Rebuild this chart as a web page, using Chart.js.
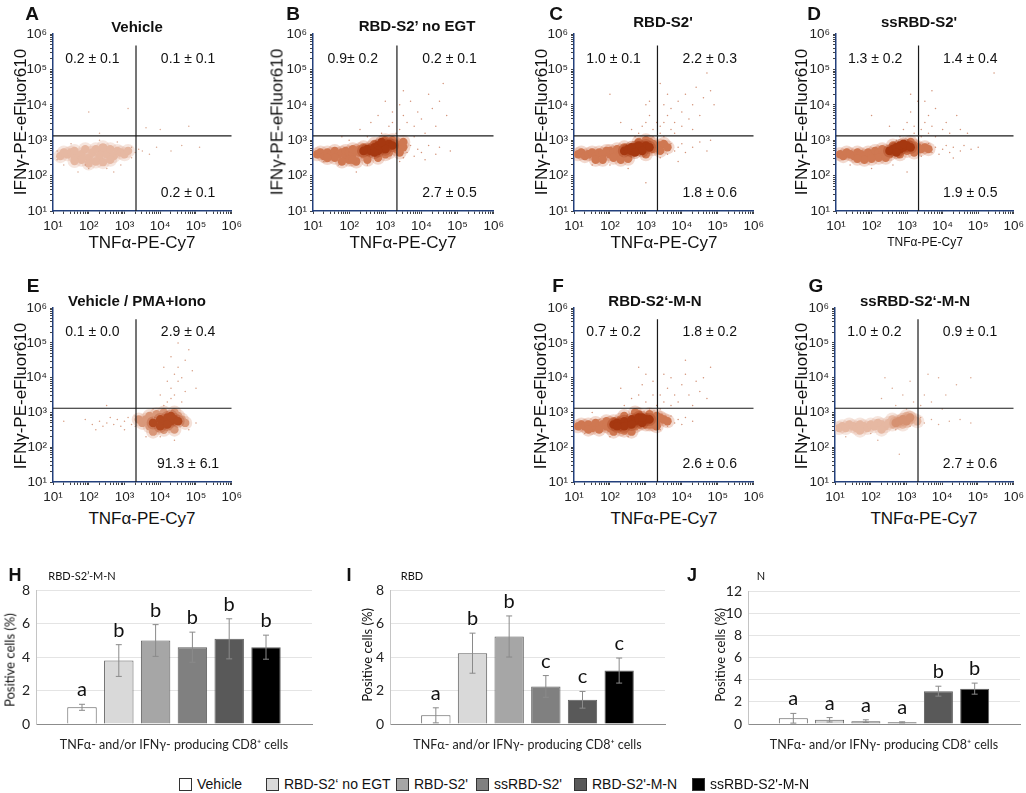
<!DOCTYPE html>
<html>
<head>
<meta charset="utf-8">
<script src="https://cdn.jsdelivr.net/npm/chart.js@4"></script>
<style>
  body { margin: 0; background: #fff; }
  #fig { position: relative; width: 1026px; height: 793px; overflow: hidden; font-family: 'Liberation Sans', Arial, sans-serif; color: #111; }
  #fig canvas { position: absolute; }
  .t { position: absolute; transform: translate(-50%, -50%); white-space: nowrap; line-height: 1; }
  .rot { transform: translate(-50%, -50%) rotate(-90deg); }
  .box { position: absolute; width: 11px; height: 11px; border: 1px solid #333; }
  .leg { position: absolute; font-size: 14px; line-height: 1; white-space: nowrap; transform: translateY(-50%); }
</style>
</head>
<body>
<div id="fig"></div>
<script>
// ---- flow panels (A-G) ----
const panelIds = ['A', 'B', 'C', 'D', 'E', 'F', 'G'];
const panelTitles = ['Vehicle', 'RBD-S2’ no EGT', "RBD-S2'", "ssRBD-S2'", 'Vehicle / PMA+Iono', 'RBD-S2‘-M-N', 'ssRBD-S2‘-M-N'];
const upperLeft = ['0.2 ± 0.1', '0.9± 0.2', '1.0 ± 0.1', '1.3 ± 0.2', '0.1 ± 0.0', '0.7 ± 0.2', '1.0 ± 0.2'];
const upperRight = ['0.1 ± 0.1', '0.2 ± 0.1', '2.2 ± 0.3', '1.4 ± 0.4', '2.9 ± 0.4', '1.8 ± 0.2', '0.9 ± 0.1'];
const lowerRight = ['0.2 ± 0.1', '2.7 ± 0.5', '1.8 ± 0.6', '1.9 ± 0.5', '91.3 ± 6.1', '2.6 ± 0.6', '2.7 ± 0.6'];

// quadrant gates (TNFa cut, IFNg cut, top end of the vertical gate)
const gateX = 2100;
const gateY = 1320;
const gateTop = 480000;

// events [TNFa, IFNg]
const vehicleBody = [[16,355],[25,400],[32,450],[40,355],[40,500],[63,400],[80,560],[100,320],[126,450],[158,560],[200,355],[250,500],[320,400],[400,560],[500,355],[630,500],[790,450],[1000,400],[158,250],[63,280],[400,280],[1260,500],[20,450],[250,630],[100,220],[250,240],[40,260]];
const vehicleDots = [[20,200],[32,790],[100,158],[200,1000],[320,158],[630,890],[1580,320],[2000,450],[3160,500],[5000,400],[7900,630],[20000,500],[40000,710],[126000,630],[100,6300],[1260,7900],[200,1580],[50,126],[790,200],[10000,2000],[4000,2240],[63000,2500],[13,500],[500,126],[1580,630],[2500,560],[13,280],[80,200]];

const noEgtCore = [[320,560],[400,500],[500,630],[630,710],[790,630],[1000,710],[1260,790],[1000,560],[630,500],[1580,710],[790,890],[500,450],[250,500]];
const noEgtBody = [[13,400],[16,450],[20,355],[25,450],[32,400],[40,500],[50,400],[63,450],[80,355],[80,500],[100,450],[126,400],[126,560],[158,500],[200,450],[200,560],[250,400],[250,630],[320,450],[400,630],[500,790],[2000,790],[2000,560],[2500,710],[3160,630],[1580,1000],[1000,1000],[630,320],[1260,450],[3160,890],[40,320],[100,280],[63,250],[158,250],[320,280],[1000,400],[25,316],[126,280],[2500,450]];
const noEgtDots = [[200,2000],[400,3160],[630,5000],[1000,12600],[790,1580],[1260,2500],[1580,6300],[320,1260],[1580,3160],[2000,1580],
  [2500,2000],[3160,5000],[4000,3160],[5000,12600],[6300,2500],[7900,6300],[10000,4000],[15800,20000],[20000,7900],[31600,12600],[40000,40000],[50000,5000],[3160,25000],[12600,1580],[2500,10000],[6300,1260],[25000,2500],
  [4000,450],[5000,710],[6300,355],[7900,560],[10000,450],[15800,710],[25000,400],[31600,630],[63000,500],[3160,320],[2500,250],[12600,280],
  [50,200],[158,126],[320,200],[20,250],[63,1260],[100,1000]];

const rbdCore = [[250,500],[320,560],[400,500],[500,630],[630,560],[790,630],[1000,710],[630,710],[400,630],[1260,630],[790,500],[500,450]];
const rbdBody = [[13,400],[16,450],[20,355],[25,400],[32,450],[40,355],[50,450],[63,400],[80,500],[100,400],[100,500],[126,450],[158,400],[158,560],[200,450],[200,500],[250,630],[320,400],[1000,500],[1580,790],[2000,630],[1260,890],[2500,710],[3160,790],[630,890],[1000,1000],[40,280],[125,320],[1580,560],[4000,630],[63,280],[200,280],[320,300],[1000,400],[2500,500]];
const rbdDots = [[630,1580],[790,2500],[1000,3160],[1260,5000],[1580,1260],[1580,2000],[2000,3160],[1000,10000],[500,1260],[1260,12600],[400,2000],[200,3160],[100,20000],
  [2500,1580],[2500,2500],[3160,3160],[3160,1260],[4000,5000],[5000,2000],[5000,7900],[6300,3160],[7900,12600],[10000,2500],[10000,6300],[12600,20000],[15800,4000],[20000,10000],[25000,31600],[31600,5000],[40000,15800],[50000,79000],[63000,25000],[79000,10000],[2500,40000],[4000,20000],[6300,1580],[20000,2000],[3160,10000],
  [4000,400],[5000,790],[6300,500],[7900,630],[10000,790],[12600,450],[20000,630],[31600,890],[50000,500],[2500,320],[7900,250],[63000,1000],
  [32,200],[100,200],[320,158],[1000,63]];

const ssRbdCore = [[320,500],[400,560],[500,630],[630,560],[790,630],[1000,710],[630,710],[790,790],[1260,630],[500,450]];
const ssRbdBody = [[13,400],[16,355],[20,450],[25,400],[32,355],[40,450],[50,400],[63,355],[80,450],[100,400],[126,500],[158,450],[200,400],[200,560],[250,500],[320,400],[1000,500],[1580,710],[2000,630],[1260,890],[2500,560],[3160,630],[4000,560],[400,710],[63,280],[158,320],[40,300],[100,300],[250,320],[630,400],[1580,450]];
const ssRbdDots = [[630,1260],[790,2000],[1000,3160],[1260,6300],[1580,1580],[1580,2500],[2000,12600],[500,1000],[1260,20000],[320,2500],[100,5000],
  [2500,1260],[2500,2000],[3160,3160],[4000,1580],[4000,5000],[5000,2500],[6300,1260],[6300,7900],[10000,2000],[12600,3160],[15800,1580],[25000,5000],[31600,2000],[3160,12600],[5000,25000],[280000,79000],[50000,1580],
  [5000,450],[6300,630],[7900,400],[10000,560],[12600,710],[15800,450],[20000,630],[31600,500],[40000,710],[63000,560],[100000,630],[2500,355],[20000,316],[4000,790],
  [25,200],[100,158],[400,200],[1000,126]];

const pmaCore = [[6300,500],[10000,630],[12600,500],[15800,710],[20000,560],[25000,630],[10000,400],[15800,450],[31600,560],[20000,790]];
const pmaBody = [[3160,500],[4000,630],[5000,400],[5000,790],[7900,355],[7900,890],[12600,316],[12600,1000],[20000,400],[25000,1000],[31600,790],[40000,630],[50000,500],[6300,280],[2500,630],[25000,320]];
const pmaDots = [[80,630],[126,450],[200,560],[250,400],[320,500],[500,450],[630,630],[790,400],[1000,560],[1260,710],[1580,450],[2000,400],[158,320],[1000,320],[400,710],[2000,790],[20,560],
  [12600,1580],[15800,2000],[20000,2500],[25000,3160],[20000,5000],[31600,7900],[25000,12600],[40000,10000],[31600,20000],[50000,31600],[63000,63000],[40000,2000],[10000,3160],[15800,7900],[50000,4000],[79000,15800],[12600,20000],[20000,40000],[6300,1260],[100000,5000],[31600,100000],
  [10000,200],[25000,158],[63000,316],[100000,500],[4000,200],[316,1580]];

const rbdMnCore = [[126,450],[158,500],[200,450],[250,560],[320,500],[400,630],[500,560],[630,630],[790,500],[1000,630],[250,400],[400,450],[630,710],[1260,630],[158,400],[790,710]];
const rbdMnBody = [[13,400],[16,450],[20,400],[25,450],[32,355],[40,500],[50,400],[63,450],[80,400],[80,560],[100,500],[100,355],[126,560],[200,630],[320,355],[500,400],[1000,450],[1580,630],[2000,560],[2000,790],[1260,890],[2500,710],[3160,630],[630,890],[400,280],[50,320],[200,320],[1580,450],[4000,560],[25,320],[126,280],[250,300],[630,450],[1260,450],[2000,400],[250,790],[500,1000]];
const rbdMnDots = [[250,1580],[400,2500],[630,3160],[790,6300],[1000,2000],[1260,1260],[1580,3160],[1000,12600],[500,1260],[2000,1580],[200,5000],[630,20000],[1580,7900],
  [2500,1260],[2500,3160],[3160,2000],[4000,5000],[5000,1580],[5000,10000],[6300,3160],[7900,2000],[10000,6300],[12600,12600],[15800,3160],[20000,1580],[25000,7900],[31600,4000],[63000,20000],[50000,2500],[3160,12600],[12600,31600],[40000,10000],
  [4000,400],[5000,790],[6300,500],[7900,630],[10000,450],[12600,710],[20000,560],[2500,320],[3160,500],
  [20,250],[100,200],[320,200],[50,630],[32,1000]];

const ssRbdMnCore = [[500,500],[630,560],[790,630],[1000,560],[1260,710]];
const ssRbdMnBody = [[13,355],[16,400],[20,355],[25,450],[32,400],[40,355],[50,450],[63,400],[80,355],[100,450],[126,400],[158,500],[200,450],[250,400],[320,500],[400,450],[500,560],[630,500],[790,630],[1000,560],[1260,710],[1580,630],[2000,560],[790,450],[200,320],[50,300],[1000,790],[400,630]];
const ssRbdMnDots = [[100,250],[500,320],[1260,400],[2500,710],[3160,500],[5000,630],[7900,450],[15800,560],[31600,630],[63000,500],[500,1580],[790,3160],[1000,1260],[1260,7900],[1580,2000],[400,5000],[200,2500],[2500,1580],[3160,3160],[5000,2000],[7900,10000],[12600,3160],[25000,6300],[63000,10000],[4000,12600],[10000,1260],[20,200],[158,158],[630,63],[250,10000]];

// ---- bar panels (H-J) ----
const groups = ['Vehicle', "RBD-S2' no EGT", "RBD-S2'", "ssRBD-S2'", "RBD-S2'-M-N", "ssRBD-S2'-M-N"];
const legendNames = ['Vehicle', 'RBD-S2‘ no EGT', "RBD-S2'", "ssRBD-S2'", "RBD-S2'-M-N", "ssRBD-S2'-M-N"];
const groupColors = ['#ffffff', '#d9d9d9', '#a6a6a6', '#808080', '#595959', '#000000'];
const cellType = ['TNFα- and/or IFNγ- producing CD8⁺ cells'];
const barIds = ['H', 'I', 'J'];
const barTitles = ['RBD-S2’-M-N', 'RBD', 'N'];
const hMeans = [1.0, 3.8, 5.0, 4.6, 5.1, 4.6];
const hErrors = [0.18, 0.95, 0.95, 0.9, 1.2, 0.72];
const hLetters = ['a', 'b', 'b', 'b', 'b', 'b'];
const iMeans = [0.52, 4.24, 5.24, 2.25, 1.45, 3.2];
const iErrors = [0.45, 1.2, 1.23, 0.65, 0.5, 0.75];
const iLetters = ['a', 'b', 'b', 'c', 'c', 'c'];
const jMeans = [0.52, 0.38, 0.26, 0.15, 2.97, 3.2];
const jErrors = [0.44, 0.2, 0.12, 0.05, 0.45, 0.5];
const jLetters = ['a', 'a', 'a', 'a', 'b', 'b'];

Chart.defaults.font.family = "'Liberation Sans', Arial, sans-serif";
const fig = document.getElementById('fig');
const sup = ['⁰', '¹', '²', '³', '⁴', '⁵', '⁶'];

function put(text, x, y, style, rotate) {
  const d = document.createElement('div');
  d.className = rotate ? 't rot' : 't';
  d.textContent = text;
  d.style.left = x + 'px';
  d.style.top = y + 'px';
  Object.assign(d.style, style || {});
  fig.appendChild(d);
}

function makeCanvas(left, top, w, h) {
  const cv = document.createElement('canvas');
  cv.width = w; cv.height = h;
  cv.style.left = left + 'px'; cv.style.top = top + 'px';
  fig.appendChild(cv);
  return cv;
}

function decadeTicks(scale) {
  const t = [];
  for (let e = 1; e < 6; e++) {
    for (let k = 1; k < 10; k++) t.push({ value: k * Math.pow(10, e) });
  }
  t.push({ value: 1e6 });
  scale.ticks = t;
}

function decadeLabel(v) {
  const e = Math.round(Math.log10(v));
  return Math.abs(v - Math.pow(10, e)) < 1e-6 ? '10' + sup[e] : '';
}

// opaque fills so overlapping events merge into one cloud, soft halo around it
const tones = {
  dark: { core: 'rgb(166,56,16)', coreHalo: 'rgba(166,56,16,0.3)', body: 'rgb(207,120,82)', bodyHalo: 'rgba(207,120,82,0.28)', dot: 'rgba(200,120,88,0.8)' },
  mid: { core: 'rgb(178,74,32)', coreHalo: 'rgba(178,74,32,0.3)', body: 'rgb(217,152,122)', bodyHalo: 'rgba(217,152,122,0.3)', dot: 'rgba(205,132,100,0.8)' },
  light: { core: 'rgb(214,146,114)', coreHalo: 'rgba(214,146,114,0.3)', body: 'rgb(230,184,162)', bodyHalo: 'rgba(230,184,162,0.35)', dot: 'rgba(205,140,110,0.75)' }
};

const quadrantText = {
  id: 'quadrantText',
  afterDatasetsDraw(chart, args, opts) {
    const { ctx, scales: { x, y } } = chart;
    ctx.save();
    ctx.font = "14px 'Liberation Sans', Arial, sans-serif";
    ctx.fillStyle = '#111';
    ctx.textAlign = 'center';
    ctx.textBaseline = 'middle';
    ctx.fillText(upperLeft[opts.i], x.getPixelForValue(126), y.getPixelForValue(200000));
    ctx.fillText(upperRight[opts.i], x.getPixelForValue(60000), y.getPixelForValue(200000));
    ctx.fillText(lowerRight[opts.i], x.getPixelForValue(60000), y.getPixelForValue(32));
    ctx.restore();
  }
};

// plot area of each dot plot: left, top, right, bottom
const scatterBoxes = [[53,31,232,211],[313,31,494,211],[574,31,754,211],[836,31,1014,211],[53,305,232,482],[574,305,754,482],[835,305,1014,482]];

function logAxis(isX) {
  return {
    type: 'logarithmic', min: 10, max: 1e6,
    afterBuildTicks: decadeTicks,
    afterFit: isX ? (s => { s.height = 26; }) : (s => { s.width = 44; }),
    ticks: { callback: decadeLabel, autoSkip: false, maxRotation: 0, padding: isX ? 4 : 3, color: '#222', font: { size: 13.5 } },
    grid: { drawOnChartArea: false, tickLength: 3, color: '#444' },
    border: { color: '#23407c', width: 1.5 }
  };
}

function scatterPanel(i, core, body, dots, tone) {
  const [l, t, r, b] = scatterBoxes[i];
  const cv = makeCanvas(l - 44, t - 8, r - l + 58, b - t + 34);
  const pal = tones[tone];
  const datasets = [
    { type: 'line', data: [[gateX, 10], [gateX, gateTop]], borderColor: '#1a1a1a', borderWidth: 1.2, pointRadius: 0, showLine: true },
    { type: 'line', data: [[10, gateY], [1e6, gateY]], borderColor: '#1a1a1a', borderWidth: 1.2, pointRadius: 0, showLine: true },
    { data: dots, pointRadius: 0.75, backgroundColor: pal.dot, borderWidth: 0 }
  ];
  if (core) {
    datasets.push({ data: core, pointRadius: 4.3, backgroundColor: pal.core, borderWidth: 0 });
    datasets.push({ data: core, pointRadius: 6.5, backgroundColor: pal.coreHalo, borderWidth: 0 });
  }
  datasets.push({ data: body, pointRadius: 4.2, backgroundColor: pal.body, borderWidth: 0 });
  datasets.push({ data: body, pointRadius: 7, backgroundColor: pal.bodyHalo, borderWidth: 0 });
  new Chart(cv, {
    type: 'scatter',
    data: { datasets },
    options: {
      responsive: false, animation: false, events: [],
      layout: { padding: { top: 8, right: 14 } },
      plugins: { legend: { display: false }, tooltip: { enabled: false }, quadrantText: { i } },
      scales: { x: logAxis(true), y: logAxis(false) }
    },
    plugins: [quadrantText]
  });
}

scatterPanel(0, null, vehicleBody, vehicleDots, 'light');
scatterPanel(1, noEgtCore, noEgtBody, noEgtDots, 'dark');
scatterPanel(2, rbdCore, rbdBody, rbdDots, 'dark');
scatterPanel(3, ssRbdCore, ssRbdBody, ssRbdDots, 'dark');
scatterPanel(4, pmaCore, pmaBody, pmaDots, 'mid');
scatterPanel(5, rbdMnCore, rbdMnBody, rbdMnDots, 'dark');
scatterPanel(6, ssRbdMnCore, ssRbdMnBody, ssRbdMnDots, 'light');

// text around the dot plots
const letterPos = [[32,13],[293,13],[556,13],[814,13],[33,285],[558,285],[816,285]];
const titlePos = [[137,26],[417,25],[663,21],[919,21],[137,300],[655,300],[915,300]];
const yTitlePos = [[20,122],[277,122],[541,122],[801,122],[20,396],[540,396],[801,396]];
const xTitlePos = [[142,242],[403,242],[664,242],[925,242],[142,518],[664,518],[924,518]];
panelIds.forEach((id, i) => {
  put(id, letterPos[i][0], letterPos[i][1], { fontSize: '19px', fontWeight: 'bold' });
  put(panelTitles[i], titlePos[i][0], titlePos[i][1], { fontSize: '15px', fontWeight: 'bold' });
  put('IFNγ-PE-eFluor610', yTitlePos[i][0], yTitlePos[i][1], { fontSize: '17px' }, true);
  put('TNFα-PE-Cy7', xTitlePos[i][0], xTitlePos[i][1], { fontSize: i === 3 ? '12px' : '17px' });
});

// ---- bar charts ----
const errorBars = {
  id: 'errorBars',
  afterDatasetsDraw(chart, args, opts) {
    const { ctx, scales: { y } } = chart;
    ctx.save();
    chart.data.datasets.forEach((ds, k) => {
      const bar = chart.getDatasetMeta(k).data[0];
      const m = ds.data[0], e = opts.errors[k];
      const top = y.getPixelForValue(m + e);
      const bot = y.getPixelForValue(Math.max(0, m - e));
      ctx.strokeStyle = '#8a8a8a';
      ctx.lineWidth = 1;
      ctx.beginPath();
      ctx.moveTo(bar.x, top); ctx.lineTo(bar.x, bot);
      ctx.moveTo(bar.x - 3, top); ctx.lineTo(bar.x + 3, top);
      ctx.moveTo(bar.x - 3, bot); ctx.lineTo(bar.x + 3, bot);
      ctx.stroke();
      ctx.fillStyle = '#111';
      ctx.font = '20px Lato, sans-serif';
      ctx.textAlign = 'center';
      ctx.textBaseline = 'alphabetic';
      ctx.fillText(opts.letters[k], bar.x, top - 8);
    });
    ctx.restore();
  }
};

function barPanel(l, t, r, b, yMax, means, errors, letters) {
  const cv = makeCanvas(l - 30, t - 10, r - l + 38, b - t + 40);
  new Chart(cv, {
    type: 'bar',
    data: {
      labels: cellType,
      datasets: groups.map((g, k) => ({
        label: g, data: [means[k]],
        backgroundColor: groupColors[k], borderColor: '#5f5f5f', borderWidth: 1
      }))
    },
    options: {
      responsive: false, animation: false, events: [],
      layout: { padding: { top: 10, right: 8 } },
      datasets: { bar: { categoryPercentage: 0.8, barPercentage: 0.8 } },
      plugins: { legend: { display: false }, tooltip: { enabled: false }, errorBars: { errors, letters } },
      scales: {
        x: {
          afterFit: s => { s.height = 30; },
          grid: { drawOnChartArea: false, drawTicks: false },
          border: { color: '#8c8c8c' },
          ticks: { padding: 13, maxRotation: 0, color: '#222', font: { family: 'Lato, sans-serif', size: 12.5 } }
        },
        y: {
          min: 0, max: yMax,
          afterFit: s => { s.width = 30; },
          ticks: { stepSize: 2, padding: 6, color: '#222', font: { family: 'Lato, sans-serif', size: 14 } },
          grid: { color: '#e4e4e4', drawTicks: false },
          border: { color: '#c4c4c4' }
        }
      }
    },
    plugins: [errorBars]
  });
}

barPanel(36, 586, 312, 724, 8, hMeans, hErrors, hLetters);
barPanel(390, 586, 665, 724, 8, iMeans, iErrors, iLetters);
barPanel(748, 587, 1020, 724, 12, jMeans, jErrors, jLetters);

const barLetterPos = [[15,575],[349,575],[692,575]];
const barTitlePos = [[82,575],[412,575],[761,575]];
const barYTitlePos = [[10,660],[367,655],[720,655]];
barIds.forEach((id, i) => {
  put(id, barLetterPos[i][0], barLetterPos[i][1], { fontSize: '18px', fontWeight: 'bold' });
  put(barTitles[i], barTitlePos[i][0], barTitlePos[i][1], { fontSize: '11px', fontFamily: 'Lato, sans-serif' });
  put('Positive cells (%)', barYTitlePos[i][0], barYTitlePos[i][1], { fontSize: '13px', fontFamily: 'Lato, sans-serif' }, true);
});

// legend
const legendX = [179, 266, 396, 476, 574, 692];
legendNames.forEach((name, k) => {
  const bx = document.createElement('div');
  bx.className = 'box';
  bx.style.left = legendX[k] + 'px';
  bx.style.top = '778px';
  bx.style.background = groupColors[k];
  fig.appendChild(bx);
  const tx = document.createElement('div');
  tx.className = 'leg';
  tx.textContent = name;
  tx.style.left = (legendX[k] + 18) + 'px';
  tx.style.top = '784px';
  fig.appendChild(tx);
});
</script>
</body>
</html>
